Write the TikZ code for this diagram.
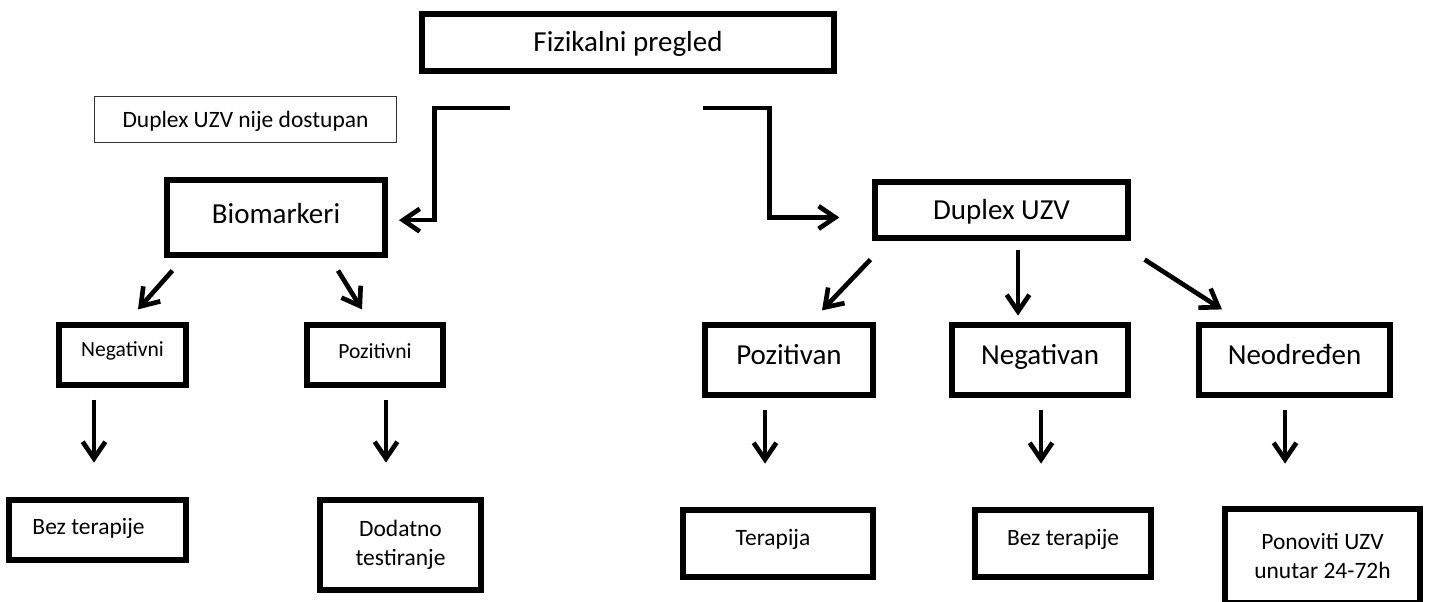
\documentclass[tikz,border=0pt]{standalone}
\usepackage{fontspec}
\setmainfont{Carlito}
\usetikzlibrary{arrows.meta}
\tikzset{
  bx/.style={draw=black, line width=3.9pt, inner sep=0pt, align=center},
  thinbx/.style={draw=black!80, line width=0.9pt, inner sep=0pt, align=center},
  big/.style={font=\fontsize{21.75pt}{26pt}\selectfont, text height=14pt},
  med/.style={font=\fontsize{17.6pt}{21.6pt}\selectfont, text height=11.3pt},
  sml/.style={font=\fontsize{16.2pt}{19.5pt}\selectfont, text height=10.4pt},
  multi/.style={text height=, text depth=},
  arr/.style={line width=3.5pt, -{Straight Barb[length=12.5pt,width=17pt]}},
}
\begin{document}
\begin{tikzpicture}[x=0.75pt,y=-0.75pt]
\useasboundingbox (0,0) rectangle (1430,602);
% boxes
\node[bx,big,text depth=0pt,minimum width=309pt,minimum height=42.75pt] (fiz) at (628,42.5) {Fizikalni pregled};
\node[thinbx,med,text depth=0pt,minimum width=226.5pt,minimum height=34.5pt] (dup0) at (245.5,119.5) {Duplex UZV nije dostupan};
\node[bx,big,text depth=5.2pt,minimum width=163.5pt,minimum height=56.25pt] (bio) at (276,217.5) {Biomarkeri};
\node[bx,sml,text depth=7.5pt,minimum width=95.25pt,minimum height=45pt] (neg) at (122.5,355) {Negativni};
\node[bx,sml,text depth=4.5pt,minimum width=102pt,minimum height=45pt] (poz) at (375,355) {Pozitivni};
\node[bx,med,text depth=4.5pt,minimum width=132.75pt,minimum height=45pt] (bez1) at (97.5,530) {Bez terapije\hspace{13.5pt}};
\node[bx,med,multi,minimum width=120.75pt,minimum height=67.5pt] (dod) at (400.5,545) {Dodatno\\testiranje};
\node[bx,big,text depth=0pt,minimum width=189.75pt,minimum height=42pt] (dupx) at (1001.5,210) {Duplex UZV};
\node[bx,big,text depth=7.5pt,minimum width=126pt,minimum height=52.5pt] (pozv) at (789,360) {Pozitivan};
\node[bx,big,text depth=7.5pt,minimum width=132pt,minimum height=52.5pt] (negv) at (1040,360) {Negativan};
\node[bx,big,text depth=7.5pt,minimum width=143.25pt,minimum height=52.5pt] (neod) at (1294.5,360) {Neodređen};
\node[bx,med,text depth=8.25pt,minimum width=142.5pt,minimum height=50.25pt] (ter) at (778,543.5) {Terapija\hspace{7.5pt}};
\node[bx,med,text depth=8.25pt,minimum width=132pt,minimum height=50.25pt] (bez2) at (1063,543.5) {Bez terapije};
\node[bx,med,multi,minimum width=146.25pt,minimum height=70.5pt] (pon) at (1322.5,556) {Ponoviti UZV\\unutar 24-72h};
% connectors
\coordinate (a1) at (510,108);
\coordinate (a2) at (703,108);
\draw[arr] (a1) -| ([xshift=35.25pt,yshift=-2pt]bio.east) -- ([xshift=8.5pt,yshift=-2pt]bio.east);
\draw[arr] (a2) -| ([xshift=-77.25pt,yshift=-5.6pt]dupx.west) -- ([xshift=-24.75pt,yshift=-5.6pt]dupx.west);
\draw[arr] ([shift={(8,13)}]bio.south west) -- ([shift={(15.5,-13)}]neg.north);
\draw[arr] ([shift={(62,13)}]bio.south) -- ([shift={(-13,-13)}]poz.north);
\draw[arr] ([shift={(-28.5,12)}]neg.south) -- ++(0,63);
\draw[arr] ([shift={(11,12)}]poz.south) -- ++(0,63);
\draw[arr] ([shift={(-2,19)}]dupx.south west) -- ([shift={(33,-12)}]pozv.north);
\draw[arr] ([shift={(16.5,9)}]dupx.south) -- ++(0,66);
\draw[arr] ([shift={(14,19)}]dupx.south east) -- ([shift={(-72.5,-13)}]neod.north);
\draw[arr] ([shift={(-24,12)}]pozv.south) -- ++(0,54);
\draw[arr] ([shift={(1,12)}]negv.south) -- ++(0,54);
\draw[arr] ([shift={(-9.5,12)}]neod.south) -- ++(0,54);
\end{tikzpicture}
\end{document}
